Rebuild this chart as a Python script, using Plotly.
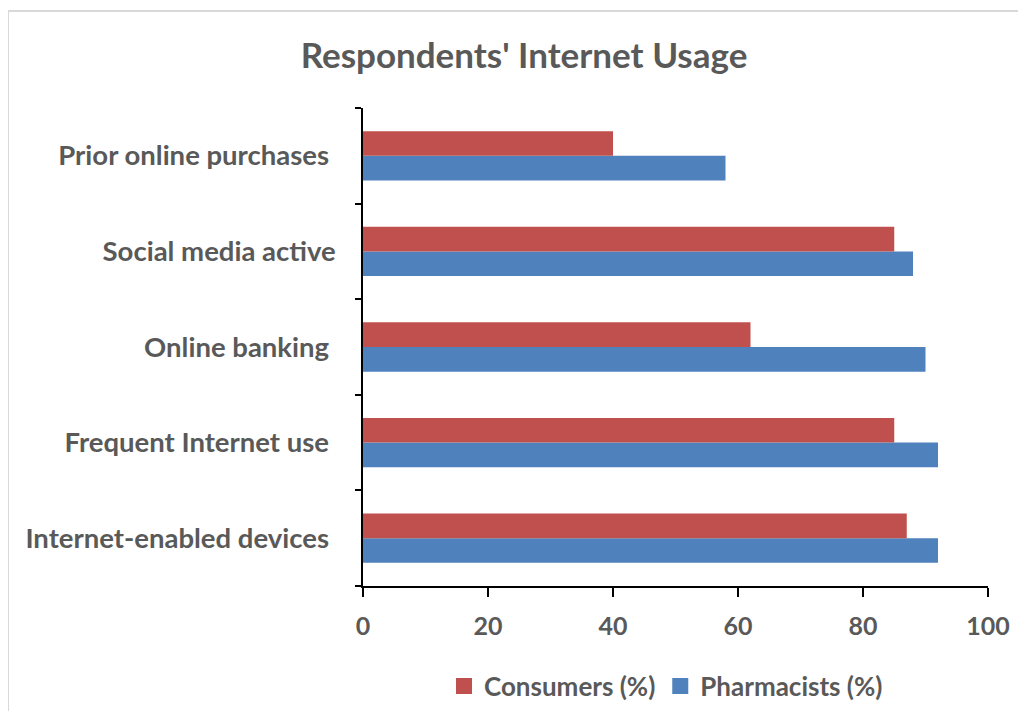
import plotly.graph_objects as go

categories = ["Internet-enabled devices", "Frequent Internet use", "Online banking",
              "Social media active", "Prior online purchases"]
tick_labels = ["Internet-enabled devices\u00a0", "Frequent Internet use\u00a0", "Online banking\u00a0",
               "Social media active", "Prior online purchases\u00a0"]
consumers = [87, 85, 62, 85, 40]
pharmacists = [92, 92, 90, 88, 58]
x_ticks = [0, 20, 40, 60, 80, 100]

FONT = "Lato"
GRAY = "#595959"
RED = "#C0504D"
BLUE = "#4F81BD"
OFF = 8  # page body margin

fig = go.Figure()
fig.add_trace(go.Bar(y=categories, x=pharmacists, name="Pharmacists (%)", orientation="h",
                     marker=dict(color=BLUE, line=dict(width=0)), showlegend=False))
fig.add_trace(go.Bar(y=categories, x=consumers, name="Consumers (%)", orientation="h",
                     marker=dict(color=RED, line=dict(width=0)), showlegend=False))
# legend entries with larger square swatches
fig.add_trace(go.Scatter(x=[None], y=[None], mode="markers", name="<b>Consumers (%)</b>",
                         marker=dict(symbol="square", size=18, color=RED), legendrank=1))
fig.add_trace(go.Scatter(x=[None], y=[None], mode="markers", name="<b>Pharmacists (%)</b>",
                         marker=dict(symbol="square", size=18, color=BLUE), legendrank=2))

W, H = 1026 - 2 * OFF + 6, 719 - OFF - 8
L = 363 - OFF
T = 108 - OFF
R = W - (988 - OFF)
B = H - (586 - OFF)
pw, ph = W - L - R, H - T - B

def px_x(p):
    return (p - OFF - L) / pw

def px_y(p):
    return 1 - (p - OFF - T) / ph

fig.update_layout(
    width=W, height=H,
    margin=dict(l=L, r=R, t=T, b=B, autoexpand=False),
    paper_bgcolor="white", plot_bgcolor="white",
    barmode="group", bargap=0.484, bargroupgap=0,
    font=dict(family=FONT, color=GRAY, size=24),
    title=dict(text="<b>Respondents' Internet Usage</b>", x=(524 - OFF) / W, xref="container",
               xanchor="center", y=1 - (56 - OFF) / H, yref="container", yanchor="middle",
               font=dict(family=FONT, size=35, color=GRAY)),
    legend=dict(orientation="h", x=(666 - OFF) / W, xref="container", xanchor="center",
                y=1 - (686 - OFF) / H, yref="container", yanchor="middle",
                font=dict(size=26, color=GRAY, family=FONT),
                itemsizing="trace", itemwidth=30, traceorder="normal"),
    showlegend=True,
    xaxis=dict(range=[0, 100], tickvals=x_ticks, ticktext=[f"<b>{v}</b>" for v in x_ticks],
               showgrid=False, zeroline=False, showline=True, linecolor="#000000", linewidth=1.5,
               ticks="outside", ticklen=9, tickcolor="#000000", tickwidth=1.5,
               tickfont=dict(size=25, color=GRAY, family=FONT), ticklabelstandoff=8),
    yaxis=dict(type="category", categoryorder="array", categoryarray=categories,
               tickvals=categories, ticktext=[f"<b>{t}</b>" for t in tick_labels],
               showgrid=False, zeroline=False, showline=True, linecolor="#000000", linewidth=1.5,
               ticks="outside", ticklen=6, tickcolor="#000000", tickwidth=1.5, tickson="boundaries",
               tickfont=dict(size=27.5, color=GRAY, family=FONT), ticklabelstandoff=20),
)

fig.add_shape(type="rect", xref="paper", yref="paper",
              x0=px_x(8), x1=px_x(1100), y0=px_y(800), y1=px_y(11),
              line=dict(color="#D9D9D9", width=2), fillcolor="rgba(0,0,0,0)", layer="below")

fig.write_html("out.html")
